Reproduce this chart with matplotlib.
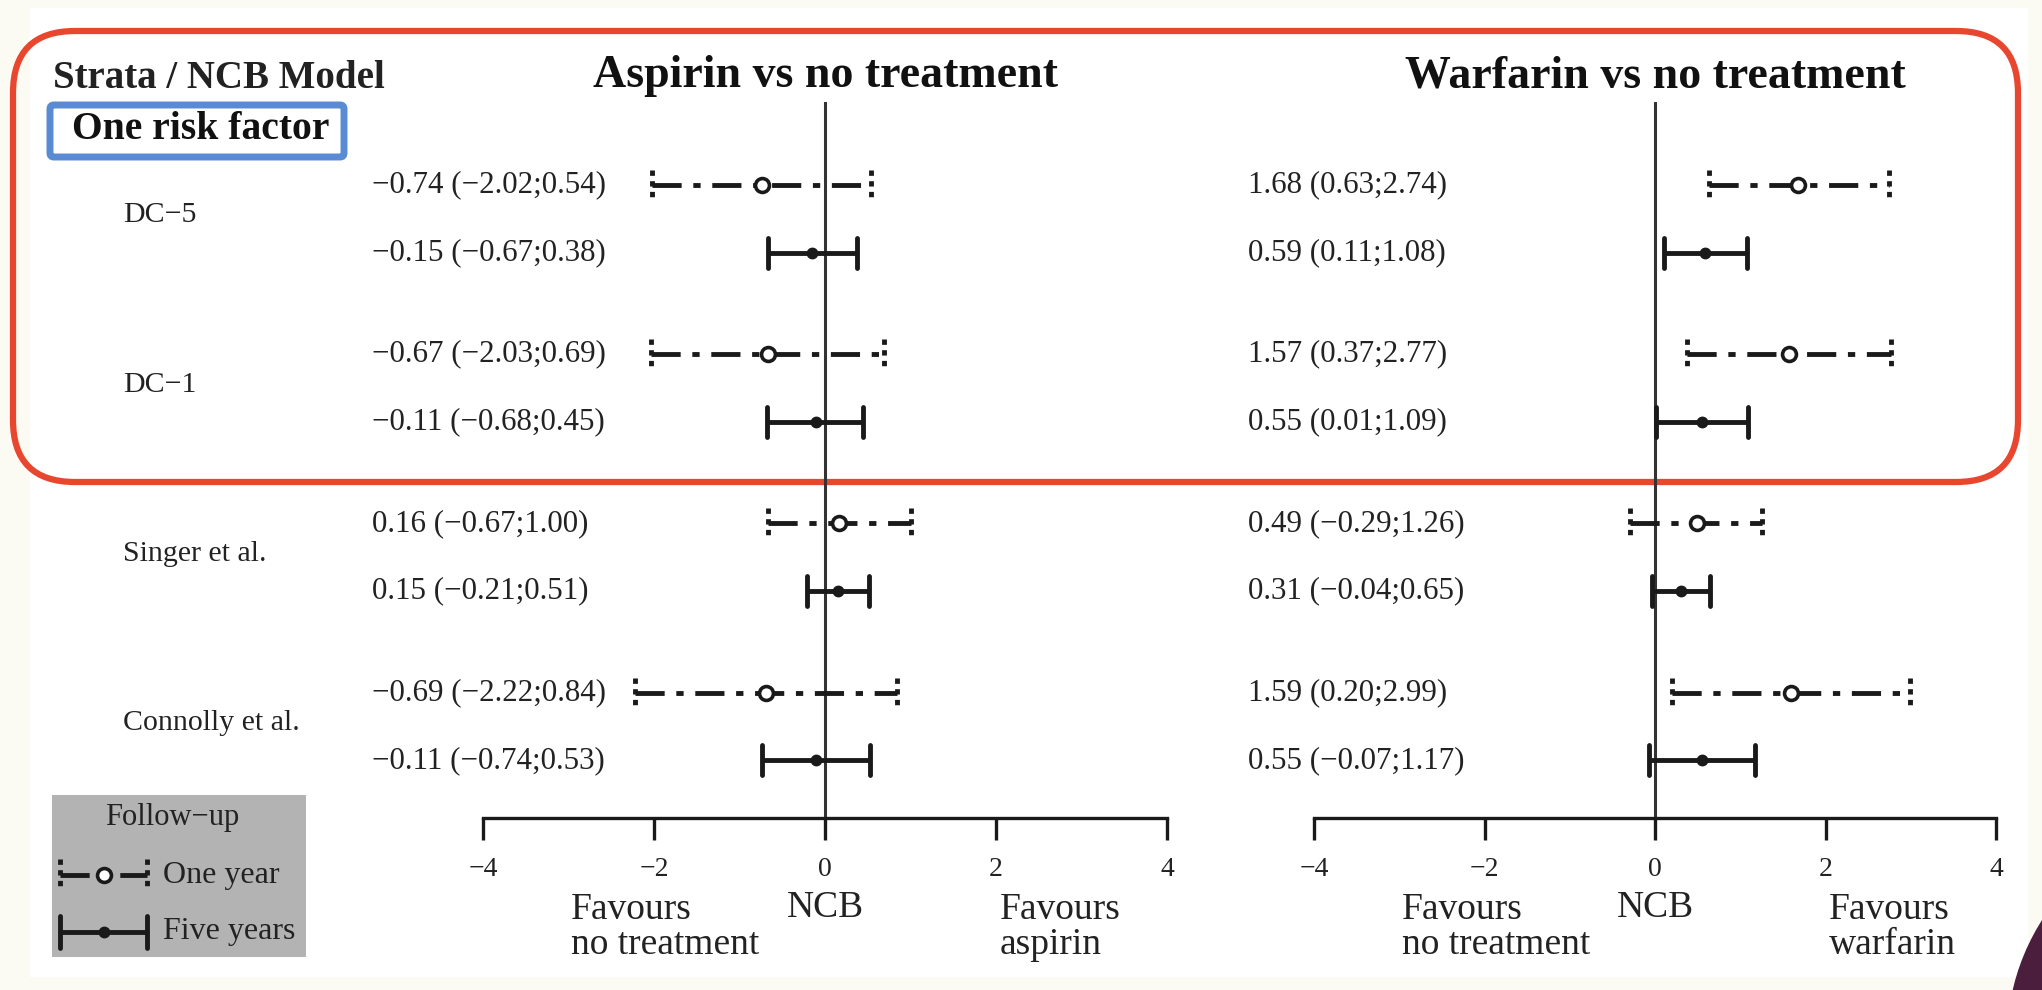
import matplotlib
matplotlib.use("Agg")
import matplotlib.pyplot as plt
from matplotlib import transforms
from matplotlib.patches import Rectangle, FancyBboxPatch, Circle

plt.rcParams['font.family'] = ['Liberation Serif', 'DejaVu Serif']

# data: net clinical benefit estimates (95% CI)
strata = ['DC\u22125', 'DC\u22121', 'Singer et al.', 'Connolly et al.']

asp_one_est = [-0.74, -0.67, 0.16, -0.69]
asp_one_lo = [-2.02, -2.03, -0.67, -2.22]
asp_one_hi = [0.54, 0.69, 1.00, 0.84]
asp_five_est = [-0.15, -0.11, 0.15, -0.11]
asp_five_lo = [-0.67, -0.68, -0.21, -0.74]
asp_five_hi = [0.38, 0.45, 0.51, 0.53]

war_one_est = [1.68, 1.57, 0.49, 1.59]
war_one_lo = [0.63, 0.37, -0.29, 0.20]
war_one_hi = [2.74, 2.77, 1.26, 2.99]
war_five_est = [0.59, 0.55, 0.31, 0.55]
war_five_lo = [0.11, 0.01, -0.04, -0.07]
war_five_hi = [1.08, 1.09, 0.65, 1.17]

xticks = [-4, -2, 0, 2, 4]

W, H = 2042, 990
INK = '#1a1a1a'
TXT = '#222222'
ONE_DASH = (0, (6, 2.4, 1.5, 2.4))
CAP_DASH = (0, (1.1, 1.1))
LW = 3.5


def fx(px):
    return px / W


def fy(py):
    return 1 - py / H


def fmt(v):
    return '{:.2f}'.format(v).replace('-', '\u2212')


def draw_bar(ax, lo, est, hi, y, half, one_year):
    if one_year:
        ax.plot([lo, hi], [y, y], color=INK, lw=LW, linestyle=ONE_DASH, zorder=3)
        ax.plot([lo, lo], [y - half, y + half], color=INK, lw=LW, linestyle=CAP_DASH, zorder=3)
        ax.plot([hi, hi], [y - half, y + half], color=INK, lw=LW, linestyle=CAP_DASH, zorder=3)
        ax.plot([est], [y], marker='o', ms=10, mfc='white', mec=INK, mew=2.6, zorder=4)
    else:
        ax.plot([lo, hi], [y, y], color=INK, lw=LW, solid_capstyle='butt', zorder=3)
        ax.plot([lo, lo], [y - half, y + half], color=INK, lw=LW, solid_capstyle='round', zorder=3)
        ax.plot([hi, hi], [y - half, y + half], color=INK, lw=LW, solid_capstyle='round', zorder=3)
        ax.plot([est], [y], marker='o', ms=7.5, mfc=INK, mec=INK, zorder=4)


fig = plt.figure(figsize=(W / 100, H / 100), dpi=100)
fig.patch.set_facecolor('#fbfbf3')

# background / decoration layer in pixel coordinates
bg = fig.add_axes([0, 0, 1, 1], zorder=-10)
bg.set_xlim(0, W)
bg.set_ylim(H, 0)
bg.axis('off')
bg.add_patch(Rectangle((30, 8), 1998, 969, facecolor='white', edgecolor='none'))
bg.add_patch(Circle((2230, 1040), 223, facecolor='#4a1e3c', edgecolor='none'))
bg.add_patch(FancyBboxPatch((13, 31), 2005, 451, boxstyle='round,pad=0,rounding_size=62',
                            facecolor='none', edgecolor='#e8462e', lw=4.5))
bg.add_patch(FancyBboxPatch((50, 105), 294, 52, boxstyle='round,pad=0,rounding_size=4',
                            facecolor='none', edgecolor='#588bd3', lw=5))
bg.add_patch(Rectangle((52, 795), 254, 162, facecolor='#b3b3b3', edgecolor='none'))

# legend keys
bg.text(172, 818, 'Follow\u2212up', ha='center', va='center', fontsize=22, color=TXT)
draw_bar(bg, 60, 104, 147, 875, 16, True)
draw_bar(bg, 60, 104, 147, 932, 16, False)
bg.text(163, 875, 'One year', ha='left', va='center', fontsize=23, color=TXT)
bg.text(163, 932, 'Five years', ha='left', va='center', fontsize=23, color=TXT)

# headers
fig.text(fx(53), fy(78), 'Strata / NCB Model', ha='left', va='center',
         fontsize=28, fontweight='bold', color=TXT)
fig.text(fx(72), fy(129), 'One risk factor', ha='left', va='center',
         fontsize=28.5, fontweight='bold', color='#111111')

# row layout
GROUP_STEP = 1.0
ROW_STEP = 0.4
row_px = 169.3
half = 15 / row_px

panels = [
    ('Aspirin vs no treatment', 483, 1167, 372, 'aspirin',
     (asp_one_est, asp_one_lo, asp_one_hi), (asp_five_est, asp_five_lo, asp_five_hi)),
    ('Warfarin vs no treatment', 1314, 1996, 1248, 'warfarin',
     (war_one_est, war_one_lo, war_one_hi), (war_five_est, war_five_lo, war_five_hi)),
]

for pi, (title, x0, x1, label_px, drug, one, five) in enumerate(panels):
    ax = fig.add_axes([fx(x0), fy(818), fx(x1) - fx(x0), (818 - 102) / H])
    ax.patch.set_alpha(0)
    ax.set_xlim(-4, 4)
    ax.set_ylim(3.74, -0.49)
    for s in ['top', 'left', 'right']:
        ax.spines[s].set_visible(False)
    ax.spines['bottom'].set_linewidth(2.4)
    ax.spines['bottom'].set_color(INK)
    ax.set_yticks([])
    ax.set_xticks(xticks)
    ax.tick_params(axis='x', length=16, width=2.4, color=INK, pad=12,
                   labelsize=20, labelcolor=TXT)
    ax.axvline(0, color='#333333', lw=2.2, zorder=1)

    tr = transforms.blended_transform_factory(fig.transFigure, ax.transData)
    for i in range(len(strata)):
        y1 = i * GROUP_STEP
        y5 = y1 + ROW_STEP
        draw_bar(ax, one[1][i], one[0][i], one[2][i], y1, half, True)
        draw_bar(ax, five[1][i], five[0][i], five[2][i], y5, half, False)
        ax.text(fx(label_px), y1, '{} ({};{})'.format(fmt(one[0][i]), fmt(one[1][i]), fmt(one[2][i])),
                transform=tr, ha='left', va='center', fontsize=22.3, color=TXT)
        ax.text(fx(label_px), y5, '{} ({};{})'.format(fmt(five[0][i]), fmt(five[1][i]), fmt(five[2][i])),
                transform=tr, ha='left', va='center', fontsize=22.3, color=TXT)
        if pi == 0:
            ax.text(fx(123), y1 + ROW_STEP / 2 - 0.02, strata[i], transform=tr,
                    ha='left', va='center', fontsize=21.5, color=TXT)

    # title centred over the no-effect line
    cx = ax.transData.transform((0, 0))[0] / W
    fig.text(cx, fy(76), title, ha='center', va='center', fontsize=33,
             fontweight='bold', color='#111111')

    # direction labels under the axis
    lab_tr = transforms.blended_transform_factory(ax.transData, fig.transFigure)
    ax.text(-2.97, fy(927), 'Favours\nno treatment', transform=lab_tr, ha='left', va='center',
            fontsize=27, linespacing=1.0, color=TXT)
    ax.text(0, fy(908), 'NCB', transform=lab_tr, ha='center', va='center',
            fontsize=27, color=TXT)
    ax.text(2.04, fy(927), 'Favours\n' + drug, transform=lab_tr, ha='left', va='center',
            fontsize=27, linespacing=1.0, color=TXT)

fig.savefig('out.png', dpi=100, facecolor=fig.get_facecolor())
